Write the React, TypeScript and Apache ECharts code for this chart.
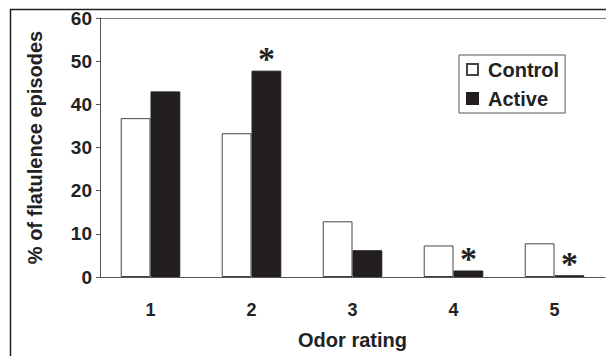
import React, { useEffect, useRef } from "react";
import * as echarts from "echarts";

const categories = ["1", "2", "3", "4", "5"];
const controlValues = [36.8, 33.3, 12.9, 7.3, 7.8];
const activeValues = [43.0, 47.8, 6.2, 1.5, 0.4];
const significant = [false, true, false, true, true];
const yTicks = { min: 0, max: 60, interval: 10 };

const FONT = '"Liberation Sans", Arial, sans-serif';
const TXT = "#222";

export default function App() {
  const ref = useRef<HTMLDivElement>(null);
  useEffect(() => {
    if (!ref.current) return;
    const chart = echarts.init(ref.current, null, { renderer: "svg" });
    chart.setOption({
      animation: false,
      backgroundColor: "#fff",
      textStyle: { fontFamily: FONT },
      grid: { left: 100, right: 1, top: 18, bottom: 79 },
      legend: {
        left: 459,
        top: 55,
        orient: "vertical",
        itemWidth: 11,
        itemHeight: 11,
        itemGap: 8,
        padding: [4, 6, 4, 7],
        borderColor: "#555",
        borderWidth: 1,
        backgroundColor: "#fff",
        icon: "rect",
        textStyle: {
          fontSize: 20,
          fontWeight: "bold",
          color: TXT,
          fontFamily: FONT,
          lineHeight: 21,
          padding: [0, 0, 0, 5],
        },
        data: ["Control", "Active"],
      },
      xAxis: {
        type: "category",
        data: categories,
        name: "Odor rating",
        nameLocation: "middle",
        nameGap: 53,
        nameTextStyle: { fontSize: 20, fontWeight: "bold", color: TXT },
        axisLine: { lineStyle: { color: "#555", width: 1 } },
        axisTick: { length: 5, lineStyle: { color: "#555" } },
        axisLabel: { margin: 24, fontSize: 18, fontWeight: "bold", color: TXT },
      },
      yAxis: {
        type: "value",
        min: yTicks.min,
        max: yTicks.max,
        interval: yTicks.interval,
        name: "% of flatulence episodes",
        nameLocation: "middle",
        nameGap: 55,
        nameTextStyle: { fontSize: 20, fontWeight: "bold", color: TXT },
        axisLine: { show: true, lineStyle: { color: "#555", width: 1 } },
        axisTick: { show: true, length: 4, lineStyle: { color: "#555" } },
        splitLine: { show: false },
        axisLabel: { margin: 8, fontSize: 19, fontWeight: "bold", color: TXT },
      },
      series: [
        {
          name: "Control",
          type: "bar",
          data: controlValues,
          barGap: "0%",
          barCategoryGap: "41%",
          itemStyle: { color: "#fff", borderColor: "#444", borderWidth: 1 },
        },
        {
          name: "Active",
          type: "bar",
          data: activeValues.map((v, i) => ({
            value: v,
            label: significant[i]
              ? {
                  show: true,
                  position: "top",
                  distance: 0,
                  offset: [0, 5],
                  formatter: "*",
                  fontSize: 34,
                  fontWeight: "bold",
                  fontFamily: '"Liberation Serif", serif',
                  color: TXT,
                }
              : { show: false },
          })),
          itemStyle: { color: "#231f20", borderColor: "#231f20", borderWidth: 1 },
        },
      ],
      graphic: [
        { type: "line", shape: { x1: 10, y1: 9.5, x2: 606, y2: 9.5 }, style: { stroke: "#222", lineWidth: 1.5 } },
        { type: "line", shape: { x1: 10.5, y1: 9, x2: 10.5, y2: 356 }, style: { stroke: "#222", lineWidth: 1.5 } },
        { type: "line", shape: { x1: 100, y1: 18.5, x2: 606, y2: 18.5 }, style: { stroke: "#777", lineWidth: 1 } },
      ],
    });
    return () => chart.dispose();
  }, []);
  return <div ref={ref} style={{ position: "fixed", left: 0, top: 0, width: 606, height: 356 }} />;
}
